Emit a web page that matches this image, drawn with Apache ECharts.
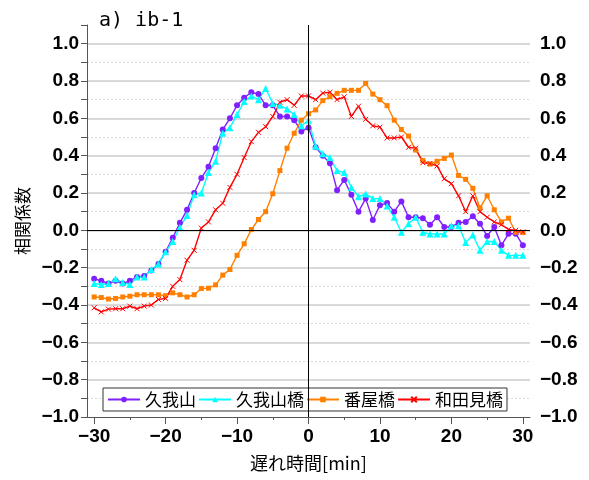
<!DOCTYPE html>
<html>
<head>
<meta charset="utf-8">
<script src="https://cdn.jsdelivr.net/npm/echarts@6.0.0/dist/echarts.min.js"></script>
<style>
  html, body { margin: 0; padding: 0; background: #fff; }
  #main { width: 589px; height: 480px; }
</style>
</head>
<body>
<div id="main"></div>
<script>
// 遅れ時間 [min]
const lags = [-30,-29,-28,-27,-26,-25,-24,-23,-22,-21,-20,-19,-18,-17,-16,-15,-14,-13,-12,-11,
  -10,-9,-8,-7,-6,-5,-4,-3,-2,-1,0,1,2,3,4,5,6,7,8,9,10,11,12,13,14,15,16,17,18,19,20,
  21,22,23,24,25,26,27,28,29,30];

const seriesNames = ["久我山", "久我山橋", "番屋橋", "和田見橋"];

const kugayama = [-0.26,-0.27,-0.285,-0.27,-0.285,-0.27,-0.25,-0.245,-0.215,-0.18,
  -0.115,-0.04,0.04,0.11,0.20,0.28,0.34,0.44,0.54,0.60,
  0.67,0.71,0.74,0.73,0.67,0.67,0.61,0.61,0.59,0.53,
  0.55,0.445,0.40,0.36,0.215,0.27,0.19,0.10,0.17,0.055,
  0.135,0.146,0.10,0.155,0.07,0.07,0.065,0.03,0.07,0.018,
  0.018,0.04,0.045,0.075,0.035,-0.03,0.018,-0.08,-0.018,-0.018,-0.08];

const kugayamabashi = [-0.285,-0.29,-0.285,-0.26,-0.28,-0.29,-0.25,-0.25,-0.21,-0.18,
  -0.115,-0.06,0.015,0.08,0.19,0.20,0.31,0.37,0.52,0.55,
  0.62,0.69,0.72,0.70,0.76,0.68,0.67,0.65,0.62,0.56,
  0.59,0.45,0.41,0.39,0.32,0.31,0.23,0.18,0.195,0.17,
  0.17,0.13,0.07,-0.01,0.035,0.07,-0.01,-0.02,-0.02,-0.02,
  0.025,0.025,-0.065,-0.025,-0.107,-0.06,-0.06,-0.107,-0.134,-0.134,-0.134];

const banyabashi = [-0.357,-0.36,-0.368,-0.365,-0.357,-0.353,-0.345,-0.345,-0.345,-0.345,
  -0.35,-0.335,-0.345,-0.357,-0.345,-0.312,-0.31,-0.292,-0.24,-0.21,
  -0.134,-0.072,0.004,0.058,0.10,0.196,0.32,0.44,0.52,0.59,
  0.625,0.645,0.695,0.716,0.734,0.75,0.75,0.75,0.787,0.73,
  0.70,0.668,0.59,0.54,0.505,0.43,0.374,0.355,0.37,0.385,
  0.403,0.294,0.273,0.225,0.12,0.185,0.11,0.045,0.065,-0.01,-0.012];

const wadamibashi = [-0.415,-0.437,-0.422,-0.42,-0.42,-0.406,-0.42,-0.406,-0.40,-0.37,
  -0.365,-0.30,-0.264,-0.16,-0.107,0.012,0.045,0.11,0.145,0.23,
  0.30,0.39,0.475,0.525,0.555,0.61,0.686,0.70,0.67,0.72,
  0.72,0.70,0.735,0.74,0.70,0.715,0.61,0.665,0.595,0.56,
  0.553,0.495,0.495,0.50,0.445,0.44,0.362,0.358,0.345,0.276,
  0.25,0.185,0.10,0.185,0.10,0.07,0.045,0.03,0.005,0.0,-0.008];

const xMajorTicks = [-30, -20, -10, 0, 10, 20, 30];
const xMinorTicks = [-25, -15, -5, 5, 15, 25];

const colorList = ["#8020ff", "#00ffff", "#ff8000", "#ff0000"];
const symbols = ["circle", "triangle", "rect", "path://M0,0L10,10M10,0L0,10"];
const symbolSizes = [6, 7, 5, 5];

const numFont = "'Liberation Sans Narrow', 'Arial Narrow', 'Liberation Sans', sans-serif";
const jpFont = "'Noto Sans CJK JP', sans-serif";

function yLabel(v) {
  let k = Math.round(v * 10);
  if (k % 2 !== 0 || k > 10) return "";
  return (k < 0 ? "\u2212" : "") + Math.abs(k / 10).toFixed(1);
}

let myChart = echarts.init(document.getElementById("main"));

const allData = [kugayama, kugayamabashi, banyabashi, wadamibashi];
let series = allData.map((vals, i) => {
  let s = {
    name: seriesNames[i],
    type: "line",
    symbol: symbols[i],
    symbolSize: symbolSizes[i],
    lineStyle: { color: colorList[i], width: 1.4 },
    itemStyle: { color: colorList[i], borderColor: colorList[i], borderWidth: i === 3 ? 1 : 0 },
    emphasis: { disabled: true },
    data: lags.map((x, j) => [x, vals[j]])
  };
  if (i === 0) {
    s.markLine = {
      silent: true,
      symbol: ["none", "none"],
      label: { show: false },
      lineStyle: { color: "#000", width: 1, type: "solid" },
      data: [{ xAxis: 0 }, { yAxis: 0 }]
    };
  }
  return s;
});

const option = {
  animation: false,
  backgroundColor: "#fff",
  title: {
    text: "a) ib-1",
    left: 94,
    top: 6,
    textStyle: { fontFamily: "'DejaVu Sans Mono', monospace", fontSize: 20, fontWeight: "normal", color: "#000" }
  },
  grid: { left: 87, right: 59, top: 25, bottom: 63 },
  legend: {
    left: 103,
    top: 388,
    itemWidth: 32,
    itemHeight: 7,
    itemGap: 2,
    padding: [3, 4],
    borderColor: "#333",
    borderWidth: 1,
    backgroundColor: "#fff",
    textStyle: { fontFamily: jpFont, fontSize: 17, color: "#000" },
    data: seriesNames
  },
  xAxis: [{
    type: "value",
    min: -31,
    max: 31,
    name: "遅れ時間[min]",
    nameLocation: "middle",
    nameGap: 37,
    nameTextStyle: { fontFamily: jpFont, fontSize: 18, color: "#000" },
    axisLine: { onZero: false, lineStyle: { color: "#555", width: 1 } },
    axisTick: { customValues: xMajorTicks, length: 7, lineStyle: { color: "#555" } },
    axisLabel: {
      customValues: xMajorTicks,
      margin: 10,
      fontFamily: numFont, fontSize: 19, fontWeight: "bold", color: "#000",
      formatter: v => (v < 0 ? "\u2212" : "") + Math.abs(v)
    },
    splitLine: { show: false }
  }, {
    type: "value",
    min: -31,
    max: 31,
    position: "bottom",
    axisLine: { show: false, onZero: false },
    axisTick: { customValues: xMinorTicks, length: 3, lineStyle: { color: "#555" } },
    axisLabel: { show: false },
    splitLine: { show: false }
  }],
  yAxis: [{
    type: "value",
    min: -1,
    max: 1.1,
    interval: 0.1,
    position: "left",
    name: "相関係数",
    nameLocation: "middle",
    nameGap: 48,
    nameTextStyle: { fontFamily: jpFont, fontSize: 17, color: "#000" },
    axisLine: { show: true, onZero: false, lineStyle: { color: "#555", width: 1 } },
    axisTick: { show: true, length: 6, lineStyle: { color: "#555" } },
    axisLabel: { margin: 8, fontFamily: numFont, fontSize: 19, fontWeight: "bold", color: "#000", formatter: yLabel },
    splitLine: { show: true, showMinLine: false, showMaxLine: false, lineStyle: { color: "#dadada", type: [2, 2], width: 1 } }
  }, {
    type: "value",
    min: -1,
    max: 1.1,
    interval: 0.2,
    position: "right",
    axisLine: { show: false, onZero: false },
    axisTick: { show: false },
    axisLabel: { margin: 10, fontFamily: numFont, fontSize: 19, fontWeight: "bold", color: "#000", formatter: yLabel },
    splitLine: { show: true, showMinLine: false, showMaxLine: false, lineStyle: { color: "#cfcfcf", type: "solid", width: 1.5 } }
  }],
  series: series
};

myChart.setOption(option);
</script>
</body>
</html>
